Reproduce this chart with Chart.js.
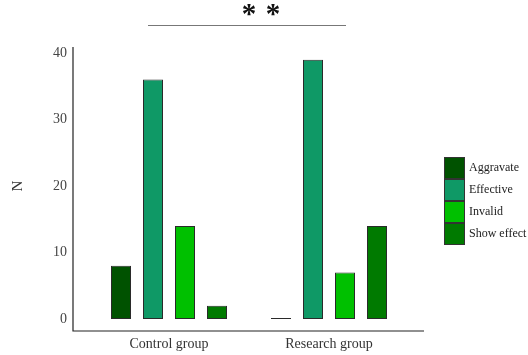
<!DOCTYPE html>
<html><head><meta charset="utf-8">
<script src="https://cdn.jsdelivr.net/npm/chart.js@4.4.1/dist/chart.umd.min.js"></script>
<style>html,body{margin:0;padding:0;background:#fff;}canvas{display:block;}</style>
</head><body>
<canvas id="c" width="528" height="355"></canvas>
<script>
const categories = ["Control group", "Research group"];
const seriesNames = ["Aggravate", "Effective", "Invalid", "Show effect"];
const aggravate = [8, 0];
const effective = [36, 39];
const invalid = [14, 7];
const showEffect = [2, 14];
const yTicks = [0, 10, 20, 30, 40];
const colors = ["#005200", "#0f9966", "#00c000", "#007a00"];
const significance = ["*", "*"];

const serif = "'Liberation Serif', 'Times New Roman', serif";

const decor = {
  id: 'decor',
  afterDraw(chart) {
    const ctx = chart.ctx, a = chart.chartArea;
    ctx.save();
    ctx.strokeStyle = '#222';
    ctx.lineWidth = 1.2;
    ctx.beginPath();
    ctx.moveTo(a.left - 16, a.top - 6);
    ctx.lineTo(a.left - 16, a.bottom + 12);
    ctx.lineTo(a.right + 15, a.bottom + 12);
    ctx.stroke();
    ctx.strokeStyle = '#777';
    ctx.lineWidth = 1.2;
    ctx.beginPath();
    ctx.moveTo(a.left + 59, 25.5);
    ctx.lineTo(a.left + 257, 25.5);
    ctx.stroke();
    ctx.fillStyle = '#111';
    ctx.font = "bold 29px " + serif;
    ctx.textAlign = 'center';
    ctx.textBaseline = 'middle';
    ctx.fillText(significance[0], a.left + 160, 16);
    ctx.fillText(significance[1], a.left + 184, 16);
    const lx = 444, ly = 157, bw = 21, bh = 22;
    ctx.font = "12px " + serif;
    ctx.textAlign = 'left';
    ctx.textBaseline = 'middle';
    chart.data.datasets.forEach((ds, i) => {
      ctx.fillStyle = ds.backgroundColor;
      ctx.fillRect(lx, ly + i * bh, bw, bh);
      ctx.strokeStyle = '#333';
      ctx.lineWidth = 1;
      ctx.strokeRect(lx + 0.5, ly + i * bh + 0.5, bw - 1, bh - 1);
      ctx.fillStyle = '#222';
      ctx.fillText(ds.label, lx + bw + 4, ly + i * bh + bh / 2);
    });
    ctx.restore();
  }
};

const values = [aggravate, effective, invalid, showEffect];
new Chart(document.getElementById('c'), {
  type: 'bar',
  data: {
    labels: categories,
    datasets: seriesNames.map((n, i) => ({
      label: n,
      data: values[i],
      backgroundColor: colors[i],
      borderColor: '#2a2a2a',
      borderWidth: 1,
      borderSkipped: false,
      minBarLength: i === 0 ? 1 : 0,
      categoryPercentage: 0.8,
      barPercentage: 0.625
    }))
  },
  options: {
    responsive: false,
    animation: false,
    layout: { padding: { top: 53, right: 119, left: 0, bottom: 0 } },
    plugins: { legend: { display: false }, tooltip: { enabled: false } },
    scales: {
      x: {
        grid: { display: false },
        border: { display: false },
        ticks: { color: '#333', font: { family: serif, size: 14 }, padding: 9 },
        afterFit(s) { s.height = 36; }
      },
      y: {
        min: 0, max: 40,
        afterBuildTicks(s) { s.ticks = yTicks.map(v => ({ value: v })); },
        grid: { display: false, drawTicks: false },
        border: { display: false },
        ticks: { color: '#444', font: { family: serif, size: 14 }, padding: 22 },
        title: { display: true, text: 'N', color: '#333', font: { family: serif, size: 15 }, padding: { top: 9 } },
        afterFit(s) { s.width = 89; }
      }
    }
  },
  plugins: [decor]
});
</script>
</body></html>
